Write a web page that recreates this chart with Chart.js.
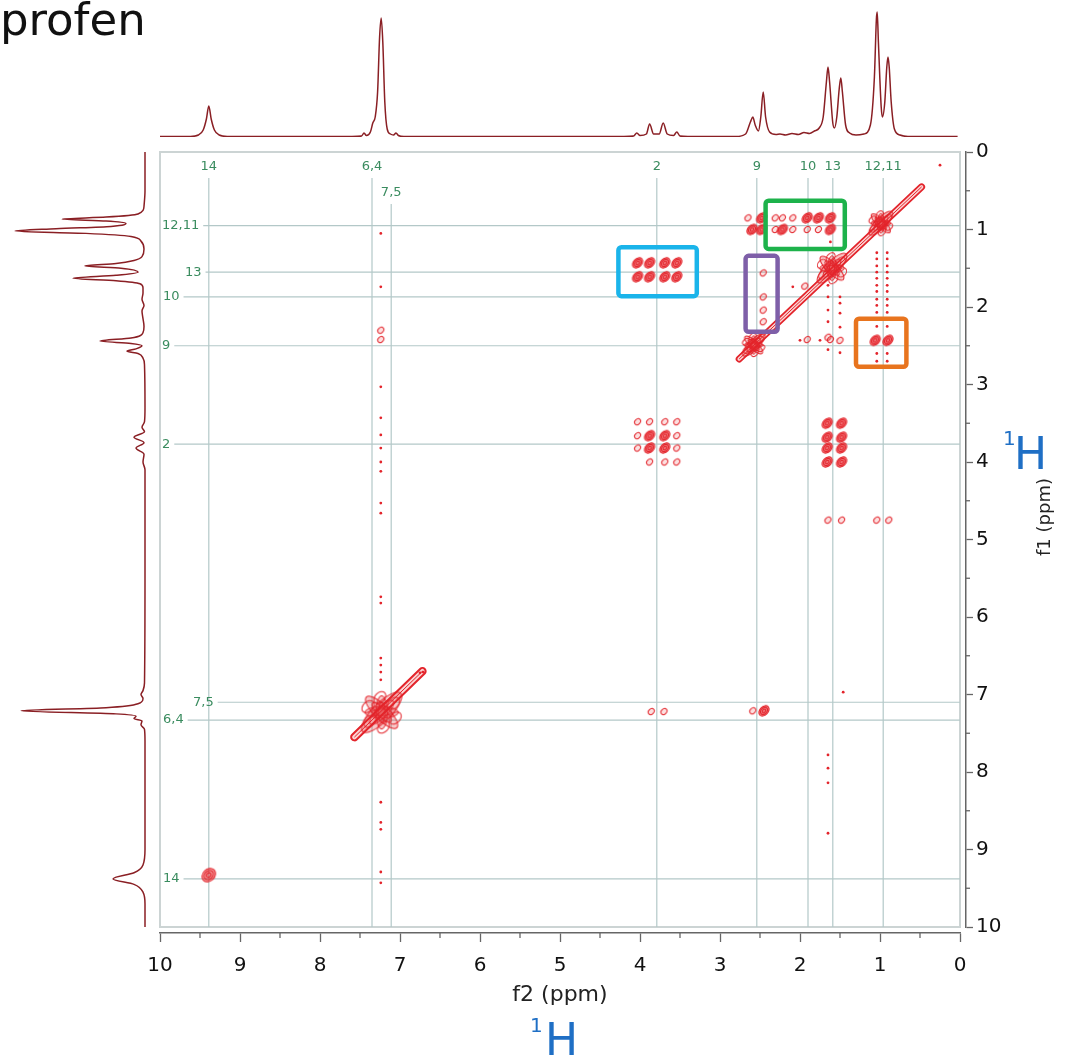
<!DOCTYPE html>
<html lang="en">

<head>
  <meta charset="UTF-8">
  <title>COSY profen</title>
  <script src="https://cdn.jsdelivr.net/npm/chart.js"></script>
  <style>
    body {
      margin: 0;
      background: #fff;
    }

    #wrap {
      position: relative;
      width: 1065px;
      height: 1055px;
      overflow: hidden;
    }

    canvas {
      position: absolute;
      left: 0;
      top: 0;
    }

    .txt {
      position: absolute;
      white-space: nowrap;
      font-family: "DejaVu Sans", sans-serif;
    }

    #title {
      left: 0px;
      top: -3px;
      font-size: 45px;
      line-height: 45px;
      color: #111;
    }

    #f1 {
      left: 1043px;
      top: 517px;
      font-size: 18px;
      color: #222;
      transform: translate(-50%, -50%) rotate(-90deg);
    }

    .one {
      font-size: 20px;
      line-height: 20px;
      color: #1f6fc5;
    }

    .bigH {
      font-size: 44px;
      line-height: 44px;
      color: #1f6fc5;
    }
  </style>
</head>

<body>
  <div id="wrap">
    <canvas id="main" width="1065" height="1055"></canvas>
    <canvas id="top" width="1065" height="150"></canvas>
    <canvas id="side" width="160" height="1055"></canvas>
    <div class="txt" id="title">profen</div>
    <div class="txt" id="f1">f1 (ppm)</div>
    <div class="txt one" style="left:1003px; top:428px">1</div>
    <div class="txt bigH" style="left:1014px; top:432px">H</div>
    <div class="txt one" style="left:530px; top:1015px">1</div>
    <div class="txt bigH" style="left:545px; top:1018px">H</div>
  </div>

  <script>
    // 1D proton trace on top (shift in ppm, height)
    const topShift = [10.0, 9.62, 9.52, 9.46, 9.42, 9.39, 9.36, 9.32, 9.26, 9.16,
      7.6, 7.48, 7.45, 7.42, 7.37, 7.34, 7.31, 7.28, 7.255, 7.235, 7.215, 7.19, 7.16, 7.12, 7.08, 7.05, 7.02, 6.95,
      4.2, 4.08, 4.04, 4.0, 3.92, 3.88, 3.83, 3.76, 3.71, 3.66, 3.58, 3.54, 3.5, 3.4,
      2.8, 2.68, 2.62, 2.59, 2.56, 2.52, 2.49, 2.46, 2.43, 2.38, 2.3,
      2.25, 2.18, 2.1, 2.02, 1.95, 1.88, 1.82, 1.76,
      1.71, 1.67, 1.65, 1.63, 1.59, 1.57, 1.54, 1.51, 1.49, 1.47, 1.43, 1.38, 1.3,
      1.2, 1.12, 1.07, 1.045, 1.035, 1.02, 0.985, 0.97, 0.94, 0.915, 0.9, 0.885, 0.86, 0.82, 0.75, 0.65, 0.03];
    const topHeight = [0.5, 0.5, 2, 7, 18, 31, 18, 7, 2, 0.5,
      0.5, 1, 4, 1.5, 5, 14, 20, 45, 100, 119, 95, 35, 8, 3, 2, 4, 1.5, 0.5,
      0.5, 1, 4, 1.5, 3, 13, 3, 3, 14, 3, 1.5, 5, 1, 0.5,
      0.5, 3, 15, 20, 12, 6, 20, 45, 20, 5, 2.5,
      3, 2, 3.5, 2.5, 4.5, 3.5, 6, 9,
      20, 55, 70, 55, 14, 9, 20, 48, 59, 45, 12, 4, 2,
      3, 12, 60, 118, 125, 95, 30, 20, 35, 70, 80, 70, 35, 8, 2, 0.5, 0.5];

    // 1D proton trace on the left (shift in ppm, height)
    const sideShift = [-0.02, 0.5, 0.7, 0.8, 0.84, 0.865, 0.89, 0.92, 0.96, 0.99, 1.02, 1.05, 1.09, 1.15, 1.25, 1.35,
      1.4, 1.44, 1.47, 1.5, 1.55, 1.59, 1.63, 1.66, 1.7, 1.75,
      1.82, 1.9, 1.98, 2.05, 2.15, 2.25,
      2.33, 2.4, 2.44, 2.47, 2.5, 2.54, 2.57, 2.6, 2.66, 2.75,
      3.3, 3.48, 3.55, 3.61, 3.68, 3.75, 3.82, 3.9, 4.0, 4.1, 4.3,
      5.5, 6.85, 6.95, 7.0, 7.05, 7.12, 7.17, 7.21, 7.25, 7.28, 7.31, 7.34, 7.39, 7.45, 7.6,
      9.0, 9.2, 9.3, 9.38, 9.45, 9.55, 9.7, 10.02];
    const sideHeight = [1, 1, 2, 8, 40, 84, 40, 20, 35, 90, 131, 60, 15, 5, 2, 4,
      12, 30, 61, 25, 8, 30, 73, 30, 6, 3,
      3, 4, 2, 4, 3, 2,
      3, 15, 46, 15, 4, 10, 19, 8, 3, 1.5,
      1, 1.5, 4, 1.5, 12, 2, 10, 2, 3, 1, 1,
      1, 1.5, 3, 5, 3, 8, 40, 125, 30, 10, 12, 4, 5, 1.5, 1,
      1, 3, 12, 33, 12, 3, 1, 1];

    // assignments
    const assignLabels = ['14', '6,4', '7,5', '2', '9', '10', '13', '12,11'];
    const assignF2 = [9.39, 7.35, 7.11, 3.79, 2.54, 1.9, 1.59, 0.96];
    const assignF1 = [9.38, 7.33, 7.1, 3.77, 2.5, 1.87, 1.55, 0.95];

    // diagonal multiplets (f2, f1)
    const diagF2 = [0.99, 1.6, 2.58, 7.23, 9.39];
    const diagF1 = [0.92, 1.5, 2.49, 7.23, 9.33];

    // diagonal ridges
    const ridgeHighF2 = [0.48, 2.76];
    const ridgeHighF1 = [0.45, 2.67];
    const ridgeAromF2 = [6.72, 7.57];
    const ridgeAromF1 = [6.7, 7.55];

    // strong cross-peak components
    const crossF2 = [4.03, 3.88, 3.69, 3.54, 4.03, 3.88, 3.69, 3.54,
      1.66, 1.48, 1.66, 1.48, 1.66, 1.48, 1.66, 1.48,
      3.88, 3.69, 3.88, 3.69,
      1.06, 0.9,
      2.48, 1.91, 1.77, 1.62, 2.6, 2.48, 2.22, 1.62,
      2.45];
    const crossF1 = [1.43, 1.43, 1.43, 1.43, 1.61, 1.61, 1.61, 1.61,
      3.5, 3.5, 3.68, 3.68, 3.82, 3.82, 4.0, 4.0,
      3.66, 3.66, 3.82, 3.82,
      2.43, 2.43,
      0.85, 0.85, 0.85, 0.85, 1.0, 1.0, 1.0, 1.0,
      7.21];

    // weak cross peaks
    const weakF2 = [4.03, 4.03, 4.03, 3.54, 3.54, 3.54, 3.88, 3.69, 3.88, 3.69, 3.54,
      2.65, 2.31, 2.22, 2.09, 2.31, 2.09, 1.91, 1.77,
      2.46, 2.46, 2.46, 2.46,
      1.65, 1.48, 1.04, 0.89,
      3.86, 3.7, 2.59,
      1.94, 1.91, 1.62, 7.24, 7.24, 1.5, 1.65];
    const weakF1 = [3.48, 3.66, 3.82, 3.48, 3.66, 3.82, 3.48, 3.48, 4.0, 4.0, 4.0,
      0.85, 0.85, 0.85, 0.85, 1.0, 1.0, 1.0, 1.0,
      1.56, 1.87, 2.04, 2.19,
      4.75, 4.75, 4.75, 4.75,
      7.22, 7.22, 7.21,
      1.73, 2.42, 2.42, 2.3, 2.42, 2.43, 2.39];

    // noise dots (t1 streaks etc.)
    const dotF2 = [7.24, 7.24, 7.24, 7.24, 7.24, 7.24, 7.24, 7.24, 7.24, 7.24, 7.24,
      7.24, 7.24, 7.24, 7.24, 7.24, 7.24, 7.24, 7.24, 7.24, 7.24,
      1.04, 1.04, 1.04, 1.04, 1.04, 1.04, 1.04, 1.04, 1.04, 1.04, 1.04, 1.04, 1.04, 1.04,
      0.91, 0.91, 0.91, 0.91, 0.91, 0.91, 0.91, 0.91, 0.91, 0.91, 0.91, 0.91, 0.91, 0.91,
      1.65, 1.65, 1.65, 1.65, 1.65, 1.5, 1.5, 1.5, 1.5, 1.5,
      1.65, 1.65, 1.65, 1.65,
      0.25, 6.75, 6.71, 2.09, 2.0, 1.75, 1.46, 1.62];
    const dotF1 = [1.05, 1.74, 3.03, 3.43, 3.65, 3.82, 4.0, 4.12, 4.53, 4.66, 5.74,
      5.82, 6.53, 6.62, 6.71, 6.81, 8.39, 8.65, 8.74, 9.29, 9.43,
      1.3, 1.38, 1.47, 1.55, 1.63, 1.72, 1.8, 1.9, 1.98, 2.07, 2.15, 2.25, 2.6, 2.7,
      1.3, 1.38, 1.47, 1.55, 1.63, 1.72, 1.8, 1.9, 1.98, 2.07, 2.15, 2.25, 2.6, 2.7,
      1.72, 1.87, 2.04, 2.19, 2.55, 1.87, 1.95, 2.08, 2.26, 2.59,
      7.78, 7.95, 8.14, 8.79,
      0.17, 6.72, 6.71, 1.74, 2.43, 2.43, 6.97, 1.16];

    // highlight boxes
    const boxF2From = [4.27, 2.43, 2.68, 1.3];
    const boxF2To = [3.29, 1.44, 2.28, 0.67];
    const boxF1From = [1.23, 0.63, 1.34, 2.15];
    const boxF1To = [1.86, 1.25, 2.32, 2.77];
    const boxColors = ['#1ab4ea', '#1db24b', '#7e5fa8', '#e8741e'];

    const red = '#e3242b';
    const trace = '#8a1f24';
    const green = '#3a8c5f';
    const tickFont = { family: '"DejaVu Sans", sans-serif', size: 20 };

    function pts(xs, ys) {
      return xs.map((v, i) => ({ x: v, y: ys[i] }));
    }

    // contour-like marks
    function ringMark(rx, ry, rings, alpha) {
      const s = Math.ceil(Math.max(rx, ry) * 2 + 4);
      const c = document.createElement('canvas');
      c.width = s;
      c.height = s;
      const g = c.getContext('2d');
      g.translate(s / 2, s / 2);
      g.rotate(-Math.PI / 4);
      for (let i = 0; i < rings; i++) {
        const k = 1 - i / rings;
        g.beginPath();
        g.ellipse(0, 0, rx * k, ry * k, 0, 0, Math.PI * 2);
        if (i === 0 && alpha) {
          g.fillStyle = `rgba(232, 45, 50, ${alpha})`;
          g.fill();
        }
        g.strokeStyle = red;
        g.lineWidth = 1;
        g.stroke();
      }
      return c;
    }

    function clusterMark(r) {
      const s = Math.ceil(r * 2 + 6);
      const c = document.createElement('canvas');
      c.width = s;
      c.height = s;
      const g = c.getContext('2d');
      g.translate(s / 2, s / 2);
      g.strokeStyle = red;
      g.lineWidth = 1;
      const petals = [[-Math.PI / 4, 1], [Math.PI / 4, 0.8], [0, 0.62], [Math.PI / 2, 0.62]];
      petals.forEach(([a, l]) => {
        g.save();
        g.rotate(a);
        g.beginPath();
        g.ellipse(0, 0, r * l, r * l * 0.34, 0, 0, Math.PI * 2);
        g.fillStyle = 'rgba(228, 40, 45, 0.25)';
        g.fill();
        g.stroke();
        g.beginPath();
        g.ellipse(0, 0, r * l * 0.6, r * l * 0.2, 0, 0, Math.PI * 2);
        g.stroke();
        g.restore();
      });
      for (let i = 0; i < 6; i++) {
        const a = i * Math.PI / 3 + 0.4;
        g.save();
        g.translate(Math.cos(a) * r * 0.55, Math.sin(a) * r * 0.55);
        g.rotate(-Math.PI / 4);
        g.beginPath();
        g.ellipse(0, 0, r * 0.26, r * 0.18, 0, 0, Math.PI * 2);
        g.stroke();
        g.restore();
      }
      return c;
    }

    const assignPlugin = {
      id: 'assign',
      beforeDatasetsDraw(chart) {
        const { ctx, chartArea: a, scales: { x, y } } = chart;
        ctx.save();
        ctx.strokeStyle = '#ccd4d4';
        ctx.lineWidth = 2;
        ctx.strokeRect(a.left, a.top, a.right - a.left, a.bottom - a.top);

        ctx.font = '13px "DejaVu Sans", sans-serif';
        ctx.fillStyle = green;
        ctx.strokeStyle = '#b3c8c8';
        ctx.lineWidth = 1.2;
        const indent = [3, 3, 33, 2, 2, 3, 25, 2];
        assignLabels.forEach((lab, i) => {
          // top label + vertical line
          const px = x.getPixelForValue(assignF2[i]);
          const low = lab === '7,5';
          const ly = a.top + (low ? 41 : 15);
          ctx.textAlign = 'center';
          ctx.textBaseline = 'middle';
          ctx.fillText(lab, px, ly);
          ctx.beginPath();
          ctx.moveTo(px, ly + 11);
          ctx.lineTo(px, a.bottom);
          ctx.stroke();
          // left label + horizontal line
          const py = y.getPixelForValue(assignF1[i]);
          const lx = a.left + indent[i];
          ctx.textAlign = 'left';
          ctx.fillText(lab, lx, py);
          ctx.beginPath();
          ctx.moveTo(lx + ctx.measureText(lab).width + 4, py);
          ctx.lineTo(a.right, py);
          ctx.stroke();
        });
        ctx.restore();
      },
      afterDatasetsDraw(chart) {
        const { ctx, scales: { x, y, xt, yt } } = chart;
        ctx.save();
        ctx.lineWidth = 4.5;
        boxColors.forEach((col, i) => {
          const x0 = x.getPixelForValue(boxF2From[i]);
          const x1 = x.getPixelForValue(boxF2To[i]);
          const y0 = y.getPixelForValue(boxF1From[i]);
          const y1 = y.getPixelForValue(boxF1To[i]);
          ctx.strokeStyle = col;
          ctx.beginPath();
          ctx.roundRect(x0, y0, x1 - x0, y1 - y0, 3);
          ctx.stroke();
        });
        // minor ticks halfway between labelled ticks
        ctx.strokeStyle = '#666';
        ctx.lineWidth = 1.3;
        for (let i = 0; i < xt.ticks.length - 1; i++) {
          const px = xt.getPixelForValue((xt.ticks[i].value + xt.ticks[i + 1].value) / 2);
          ctx.beginPath();
          ctx.moveTo(px, xt.top);
          ctx.lineTo(px, xt.top + 5);
          ctx.stroke();
        }
        for (let i = 0; i < yt.ticks.length - 1; i++) {
          const py = yt.getPixelForValue((yt.ticks[i].value + yt.ticks[i + 1].value) / 2);
          ctx.beginPath();
          ctx.moveTo(yt.left, py);
          ctx.lineTo(yt.left + 4, py);
          ctx.stroke();
        }
        ctx.restore();
      }
    };

    const medium = ringMark(6, 4.2, 3, 0.65);
    const weak = ringMark(3.4, 2.6, 1, 0.15);

    new Chart(document.getElementById('main'), {
      type: 'scatter',
      data: {
        datasets: [
          {
            data: pts(diagF2, diagF1),
            pointStyle: [clusterMark(16), clusterMark(20), clusterMark(15), clusterMark(27), ringMark(7.5, 6, 3, 0.55)],
            pointRadius: 6
          },
          { data: pts(crossF2, crossF1), pointStyle: medium, pointRadius: 5 },
          { data: pts(weakF2, weakF1), pointStyle: weak, pointRadius: 3 },
          { data: pts(dotF2, dotF1), pointStyle: 'circle', pointRadius: 1.4, backgroundColor: red, borderWidth: 0 },
          { data: pts(ridgeHighF2, ridgeHighF1), showLine: true, pointRadius: 0, borderColor: red, borderWidth: 1 },
          { data: pts(ridgeAromF2, ridgeAromF1), showLine: true, pointRadius: 0, borderColor: red, borderWidth: 1 },
          { data: pts(ridgeHighF2, ridgeHighF1), showLine: true, pointRadius: 0, borderColor: '#fbd4d4', borderWidth: 3.5, borderCapStyle: 'round' },
          { data: pts(ridgeAromF2, ridgeAromF1), showLine: true, pointRadius: 0, borderColor: '#fbd4d4', borderWidth: 4.5, borderCapStyle: 'round' },
          { data: pts(ridgeHighF2, ridgeHighF1), showLine: true, pointRadius: 0, borderColor: red, borderWidth: 7, borderCapStyle: 'round' },
          { data: pts(ridgeAromF2, ridgeAromF1), showLine: true, pointRadius: 0, borderColor: red, borderWidth: 8.5, borderCapStyle: 'round' }
        ]
      },
      options: {
        responsive: false,
        animation: false,
        events: [],
        layout: { padding: { left: 160, top: 152, right: 0, bottom: 0 } },
        plugins: { legend: { display: false }, tooltip: { enabled: false } },
        scales: {
          x: {
            type: 'linear', position: 'bottom', min: 0, max: 10, reverse: true, weight: 0,
            ticks: { display: false }, grid: { display: false }, border: { display: false },
            afterFit(s) { s.height = 6; }
          },
          xt: {
            type: 'linear', position: 'bottom', min: 0, max: 10, reverse: true, weight: 1,
            ticks: { stepSize: 1, color: '#111', font: tickFont, padding: 12, maxRotation: 0, autoSkip: false },
            grid: { drawOnChartArea: false, tickLength: 9, tickColor: '#666', tickWidth: 1.3 },
            border: { display: true, color: '#666', width: 1.5 },
            title: { display: true, text: 'f2 (ppm)', color: '#222', font: { family: '"DejaVu Sans", sans-serif', size: 22 }, padding: { top: 0, bottom: 47 } },
            afterFit(s) { s.height = 122; }
          },
          y: {
            type: 'linear', position: 'right', min: 0, max: 10, reverse: true, weight: 0,
            ticks: { display: false }, grid: { display: false }, border: { display: false },
            afterFit(s) { s.width = 6; }
          },
          yt: {
            type: 'linear', position: 'right', min: 0, max: 10, reverse: true, weight: 1,
            ticks: { stepSize: 1, color: '#111', font: tickFont, padding: 3, autoSkip: false },
            grid: { drawOnChartArea: false, tickLength: 7, tickColor: '#666', tickWidth: 1.3 },
            border: { display: true, color: '#666', width: 1.5 },
            afterFit(s) { s.width = 99; }
          }
        }
      },
      plugins: [assignPlugin]
    });

    new Chart(document.getElementById('top'), {
      type: 'line',
      data: {
        datasets: [{
          data: pts(topShift, topHeight),
          borderColor: trace, borderWidth: 1.5, pointRadius: 0, cubicInterpolationMode: 'monotone'
        }]
      },
      options: {
        responsive: false,
        animation: false,
        events: [],
        layout: { padding: { left: 160, right: 105, top: 4, bottom: 13 } },
        plugins: { legend: { display: false }, tooltip: { enabled: false } },
        scales: {
          x: { type: 'linear', display: false, min: 0, max: 10, reverse: true },
          y: { type: 'linear', display: false, min: 0, max: 133 }
        }
      }
    });

    new Chart(document.getElementById('side'), {
      type: 'line',
      data: {
        datasets: [{
          data: pts(sideHeight, sideShift),
          borderColor: trace, borderWidth: 1.5, pointRadius: 0, cubicInterpolationMode: 'monotone'
        }]
      },
      options: {
        indexAxis: 'y',
        responsive: false,
        animation: false,
        events: [],
        layout: { padding: { left: 0, right: 14, top: 152, bottom: 128 } },
        plugins: { legend: { display: false }, tooltip: { enabled: false } },
        scales: {
          x: { type: 'linear', display: false, min: 0, max: 146, reverse: true },
          y: { type: 'linear', display: false, min: 0, max: 10, reverse: true }
        }
      }
    });
  </script>
</body>

</html>
